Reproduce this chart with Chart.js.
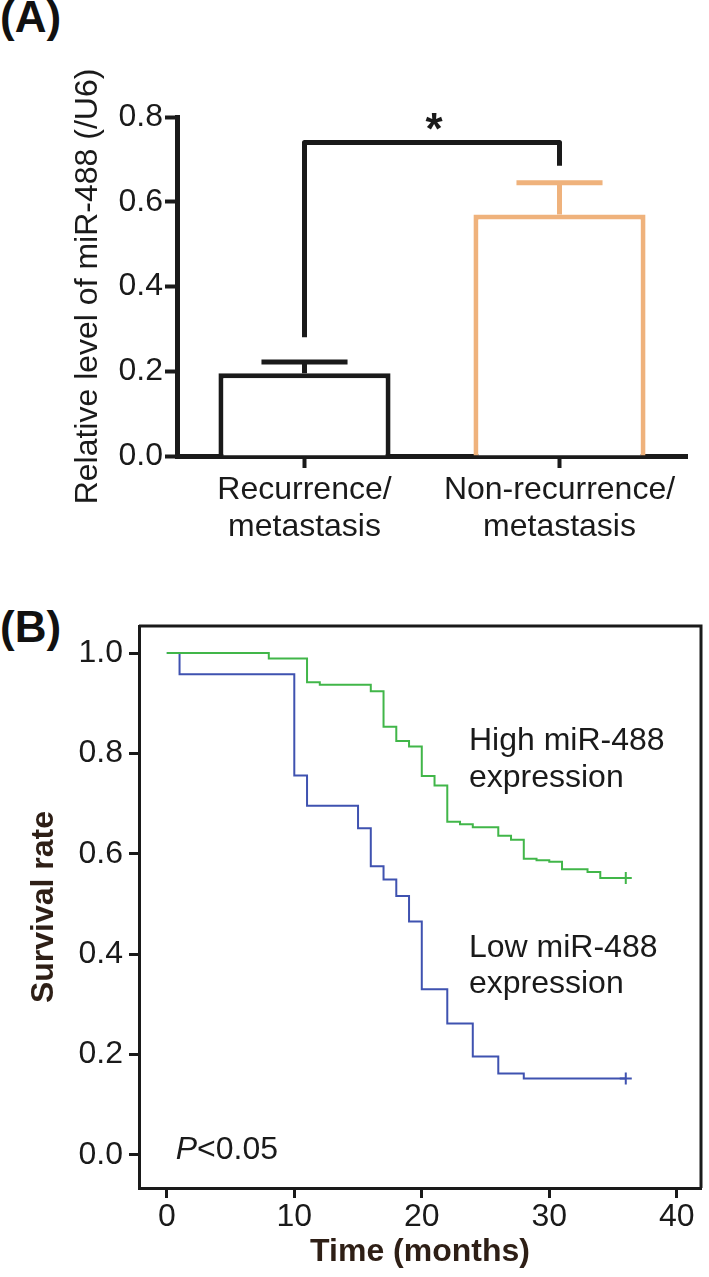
<!DOCTYPE html>
<html>
<head>
<meta charset="utf-8">
<script src="https://cdn.jsdelivr.net/npm/chart.js@4.4.1/dist/chart.umd.min.js"></script>
<style>
  html, body { margin: 0; padding: 0; background: #fff; }
  body { width: 709px; height: 1277px; position: relative; overflow: hidden; }
  .panel { position: absolute; left: 0; }
  .tag { position: absolute; left: 0; font: bold 44px "Liberation Sans", Arial, sans-serif; line-height: 44px; color: #111; }
</style>
</head>
<body>
<div class="tag" style="top:-5px">(A)</div>
<canvas id="chartA" class="panel" style="top:0" width="709" height="560"></canvas>
<div class="tag" style="top:605px">(B)</div>
<canvas id="chartB" class="panel" style="top:580px" width="709" height="697"></canvas>
<script>
// panel A: miR-488 level by group
const groups = [['Recurrence/', 'metastasis'], ['Non-recurrence/', 'metastasis']];
const meanLevel = [0.195, 0.57];
const semLevel = [0.027, 0.075];
const levelTicks = [0, 0.2, 0.4, 0.6, 0.8];
const bracketLevels = [0.28, 0.74, 0.685]; // left foot, top, right foot

// panel B: Kaplan-Meier curves
const highMonths = [0, 8, 11, 12, 16, 17, 18, 19, 20, 21, 22, 23, 24, 26, 27, 28, 29, 30, 31, 33, 34, 36];
const highSurv = [1, 0.989, 0.942, 0.937, 0.924, 0.853, 0.825, 0.814, 0.755, 0.736, 0.664, 0.659, 0.653, 0.636, 0.628, 0.590, 0.587, 0.584, 0.569, 0.564, 0.552, 0.552];
const lowMonths = [0, 1, 10, 11, 15, 16, 17, 18, 19, 20, 22, 24, 26, 28, 36];
const lowSurv = [1, 0.958, 0.756, 0.696, 0.651, 0.575, 0.549, 0.516, 0.465, 0.330, 0.262, 0.196, 0.162, 0.152, 0.152];
const survTicks = [0, 0.2, 0.4, 0.6, 0.8, 1.0];
const monthTicks = [0, 10, 20, 30, 40];

const FONT = '"Liberation Sans", Arial, sans-serif';
const INK = '#1a1a1a';
const BROWN = '#2e1f16';
const barColors = [INK, '#efb27c'];

Chart.defaults.font.family = FONT;
Chart.defaults.color = INK;

// error bars + significance bracket
const barExtras = {
  id: 'barExtras',
  afterDatasetsDraw (chart) {
    const { ctx, scales: { y } } = chart;
    const bars = chart.getDatasetMeta(0).data;
    ctx.save();
    ctx.lineWidth = 5;
    bars.forEach((bar, i) => {
      const top = y.getPixelForValue(meanLevel[i] + semLevel[i]);
      const half = bar.width / 4;
      ctx.strokeStyle = barColors[i];
      ctx.beginPath();
      ctx.moveTo(bar.x, bar.y);
      ctx.lineTo(bar.x, top);
      ctx.moveTo(bar.x - half, top);
      ctx.lineTo(bar.x + half, top);
      ctx.stroke();
    });
    // bracket
    const [a, b] = bars;
    ctx.strokeStyle = INK;
    ctx.lineJoin = 'round';
    ctx.beginPath();
    ctx.moveTo(a.x, y.getPixelForValue(bracketLevels[0]));
    ctx.lineTo(a.x, y.getPixelForValue(bracketLevels[1]));
    ctx.lineTo(b.x, y.getPixelForValue(bracketLevels[1]));
    ctx.lineTo(b.x, y.getPixelForValue(bracketLevels[2]));
    ctx.stroke();
    ctx.fillStyle = INK;
    ctx.font = 'bold 44px ' + FONT;
    ctx.textAlign = 'center';
    ctx.textBaseline = 'alphabetic';
    ctx.fillText('*', (a.x + b.x) / 2 + 2, y.getPixelForValue(bracketLevels[1]) + 2);
    ctx.restore();
  }
};

new Chart(document.getElementById('chartA'), {
  type: 'bar',
  data: {
    labels: groups,
    datasets: [{
      data: meanLevel,
      backgroundColor: '#ffffff',
      borderColor: barColors,
      borderWidth: 5,
      borderSkipped: 'start',
      categoryPercentage: 1,
      barPercentage: 0.675
    }]
  },
  options: {
    responsive: false,
    animation: false,
    events: [],
    layout: { padding: { top: 117, right: 22, left: 65, bottom: 0 } },
    plugins: { legend: { display: false }, tooltip: { enabled: false } },
    scales: {
      x: {
        afterFit: (s) => { s.height = 104; },
        border: { width: 5, color: INK },
        grid: { offset: false, drawOnChartArea: false, tickLength: 12, tickWidth: 4, tickColor: INK },
        ticks: { font: { size: 32, lineHeight: 1.15 }, color: INK, padding: 4, maxRotation: 0, autoSkip: false }
      },
      y: {
        min: 0,
        max: 0.8,
        afterFit: (s) => { s.width = 112; },
        afterBuildTicks: (s) => { s.ticks = levelTicks.map(v => ({ value: v })); },
        border: { width: 5, color: INK },
        grid: { drawOnChartArea: false, tickLength: 12, tickWidth: 4, tickColor: INK },
        ticks: { font: { size: 32 }, color: INK, padding: 2, callback: v => v.toFixed(1) },
        title: { display: true, text: 'Relative level of miR-488 (/U6)', font: { size: 32 }, color: INK }
      }
    }
  },
  plugins: [barExtras]
});

// frame + text labels for the survival panel
const kmExtras = {
  id: 'kmExtras',
  afterDraw (chart) {
    const { ctx, chartArea: ca, scales: { x, y } } = chart;
    ctx.save();
    ctx.strokeStyle = INK;
    ctx.lineWidth = 3;
    ctx.beginPath();
    ctx.moveTo(ca.left, ca.top);
    ctx.lineTo(ca.right, ca.top);
    ctx.lineTo(ca.right, ca.bottom);
    ctx.stroke();
    ctx.fillStyle = INK;
    ctx.font = '32px ' + FONT;
    ctx.textAlign = 'left';
    ctx.textBaseline = 'middle';
    const put = (txt, t, s) => ctx.fillText(txt, x.getPixelForValue(t), y.getPixelForValue(s));
    put('High miR-488', 23.7, 0.825);
    put('expression', 23.7, 0.75);
    put('Low miR-488', 23.7, 0.412);
    put('expression', 23.7, 0.341);
    ctx.font = 'italic 32px ' + FONT;
    const px = x.getPixelForValue(0.7);
    const py = y.getPixelForValue(0.01);
    ctx.fillText('P', px, py);
    const w = ctx.measureText('P').width;
    ctx.font = '32px ' + FONT;
    ctx.fillText('<0.05', px + w, py);
    ctx.restore();
  }
};

const lastOnly = (n) => (c) => (c.dataIndex === n - 1 ? 6 : 0);

new Chart(document.getElementById('chartB'), {
  type: 'line',
  data: {
    datasets: [{
      label: 'High miR-488 expression',
      data: highMonths.map((t, i) => ({ x: t, y: highSurv[i] })),
      borderColor: '#41b649',
      borderWidth: 2,
      stepped: 'before',
      pointStyle: 'cross',
      pointRadius: lastOnly(highMonths.length),
      pointBorderColor: '#41b649',
      pointBorderWidth: 2
    }, {
      label: 'Low miR-488 expression',
      data: lowMonths.map((t, i) => ({ x: t, y: lowSurv[i] })),
      borderColor: '#3f52b0',
      borderWidth: 2,
      stepped: 'before',
      pointStyle: 'cross',
      pointRadius: lastOnly(lowMonths.length),
      pointBorderColor: '#3f52b0',
      pointBorderWidth: 2
    }]
  },
  options: {
    responsive: false,
    animation: false,
    events: [],
    layout: { padding: { top: 46, right: 4, left: 21, bottom: 0 } },
    plugins: { legend: { display: false }, tooltip: { enabled: false } },
    scales: {
      x: {
        type: 'linear',
        min: -2.18,
        max: 41.9,
        afterFit: (s) => { s.height = 89; },
        afterBuildTicks: (s) => { s.ticks = monthTicks.map(v => ({ value: v })); },
        border: { width: 3, color: INK },
        grid: { drawOnChartArea: false, tickLength: 10, tickWidth: 3, tickColor: INK },
        ticks: { font: { size: 32 }, color: INK, padding: 0, maxRotation: 0 },
        title: { display: true, text: 'Time (months)', font: { size: 32, weight: 'bold' }, color: BROWN, padding: { top: 0, bottom: 6 } }
      },
      y: {
        min: -0.066,
        max: 1.054,
        afterFit: (s) => { s.width = 118; },
        afterBuildTicks: (s) => { s.ticks = survTicks.map(v => ({ value: v })); },
        border: { width: 3, color: INK },
        grid: { drawOnChartArea: false, tickLength: 10, tickWidth: 3, tickColor: INK },
        ticks: { font: { size: 32 }, color: INK, padding: 6, callback: v => v.toFixed(1) },
        title: { display: true, text: 'Survival rate', font: { size: 32, weight: 'bold' }, color: BROWN }
      }
    }
  },
  plugins: [kmExtras]
});
</script>
</body>
</html>
